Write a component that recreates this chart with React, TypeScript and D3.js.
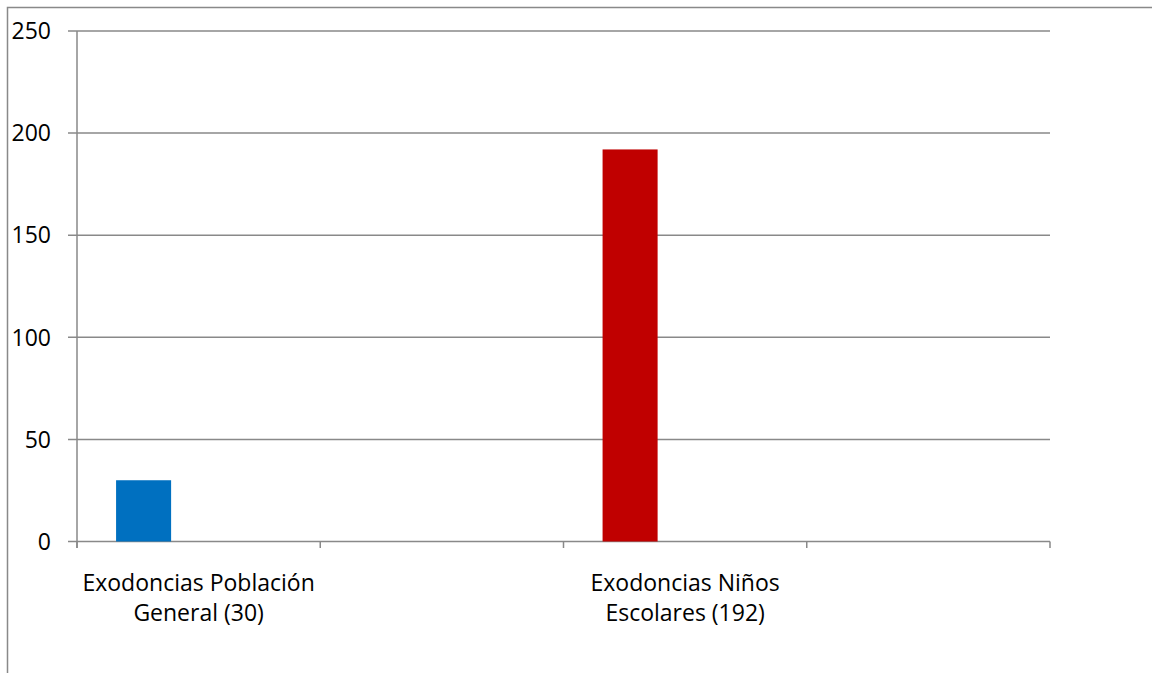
import React from "react";
import * as d3 from "d3";

const categories = ["Exodoncias Población General (30)", "", "Exodoncias Niños Escolares (192)", ""];
const categoryLines = [["Exodoncias Población", "General (30)"], [], ["Exodoncias Niños", "Escolares (192)"], []];
const values: (number | null)[] = [30, null, 192, null];
const barColors = ["#0070C0", "", "#C00000", ""];
const seriesSlots = ["s1", "s2", "s3"];
const yTicks = [0, 50, 100, 150, 200, 250];

const W = 1152;
const H = 673;
const left = 77;
const right = 1050;
const top = 31;
const bottom = 541.5;
const FONT = "'Open Sans', sans-serif";
const GRID = "#898989";

export default function App() {
  const x = d3.scaleBand<string>().domain(categories.map((c, i) => String(i))).range([left, right]).padding(0);
  const x1 = d3.scaleBand<string>().domain(seriesSlots).range([0, x.bandwidth()]).paddingInner(0).paddingOuter(0.71);
  const y = d3.scaleLinear().domain([0, 250]).range([bottom, top]);
  const tickXs = [...categories.map((c, i) => x(String(i)) as number), right];

  return (
    <svg width={W} height={H} style={{ position: "absolute", left: 0, top: 0, background: "#fff" }}>
      <rect x={7.5} y={7.5} width={1300} height={800} fill="#fff" stroke={GRID} strokeWidth={1.5} />
      {yTicks.map((t) => (
        <g key={t}>
          <line x1={68} x2={right} y1={y(t)} y2={y(t)} stroke={GRID} strokeWidth={1.5} />
          <text x={51} y={y(t)} dy="0.36em" textAnchor="end" fontFamily={FONT} fontSize={23} fill="#000">
            {t}
          </text>
        </g>
      ))}
      <line x1={left} x2={left} y1={top} y2={bottom + 6.5} stroke={GRID} strokeWidth={1.5} />
      {tickXs.map((tx, i) => (
        <line key={i} x1={tx} x2={tx} y1={bottom} y2={bottom + 6.5} stroke={GRID} strokeWidth={1.5} />
      ))}
      {values.map((v, i) =>
        v == null ? null : (
          <rect
            key={i}
            x={(x(String(i)) as number) + (x1("s1") as number)}
            y={y(v)}
            width={x1.bandwidth()}
            height={y(0) - y(v)}
            fill={barColors[i]}
          />
        )
      )}
      {categoryLines.map((lines, i) => (
        <text
          key={i}
          x={(x(String(i)) as number) + x.bandwidth() / 2}
          y={591}
          textAnchor="middle"
          fontFamily={FONT}
          fontSize={23}
          fill="#000"
        >
          {lines.map((l, j) => (
            <tspan key={j} x={(x(String(i)) as number) + x.bandwidth() / 2} dy={j === 0 ? 0 : 30}>
              {l}
            </tspan>
          ))}
        </text>
      ))}
    </svg>
  );
}
